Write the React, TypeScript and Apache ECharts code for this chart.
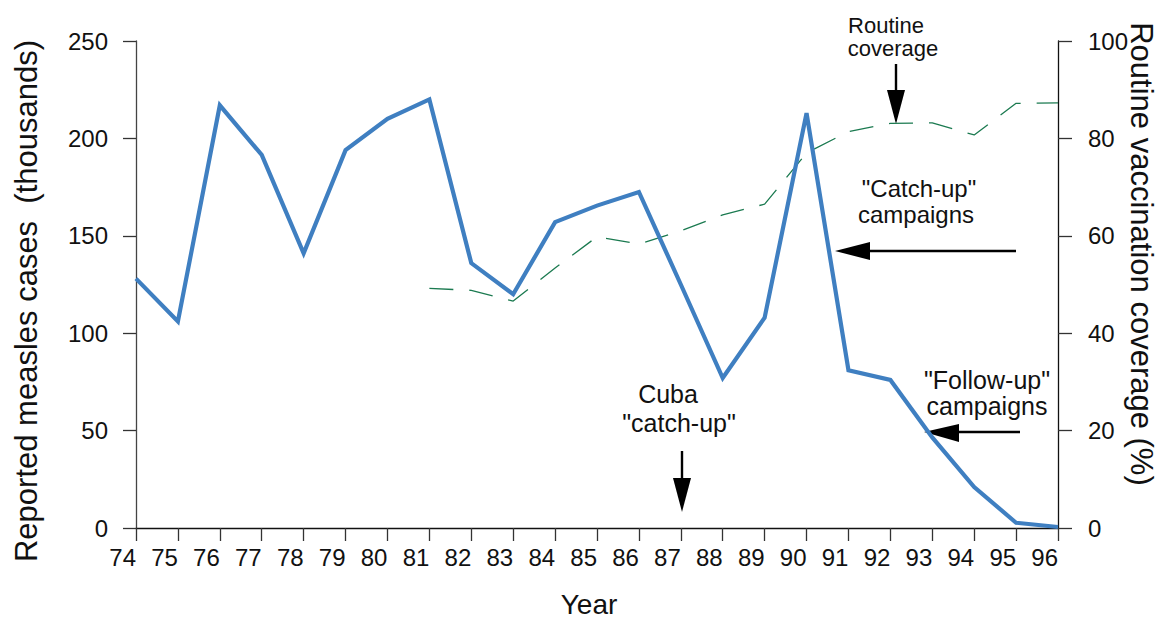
import React, { useEffect, useRef } from "react";
import * as echarts from "echarts";

const years = ["74","75","76","77","78","79","80","81","82","83","84","85","86","87","88","89","90","91","92","93","94","95","96"];
const measlesCases = [128, 106, 217, 191.5, 141, 194, 210, 220, 136, 120, 157, 165.5, 172.5, 125, 77, 108, 213, 81, 76, 46.5, 21, 2.7, 0.5];
const routineCoverage = [null, null, null, null, null, null, null, 49.2, 48.8, 46.6, 53.4, 59.8, 58.3, 61, 64.3, 66.5, 77, 81.4, 83.1, 83.2, 80.7, 87.2, 87.3];
const leftTicks = [0, 50, 100, 150, 200, 250];
const rightTicks = [0, 20, 40, 60, 80, 100];

const FONT = "'Liberation Sans', Arial, Helvetica, sans-serif";

function txt(text: string, x: number, y: number, size: number, rotation = 0) {
  return {
    type: "text",
    x,
    y,
    rotation,
    style: {
      text,
      font: `${size}px ${FONT}`,
      fill: "#111",
      align: "center",
      verticalAlign: "middle",
      textAlign: "center",
      textVerticalAlign: "middle",
    },
  };
}

function line(x1: number, y1: number, x2: number, y2: number) {
  return {
    type: "line",
    shape: { x1, y1, x2, y2 },
    style: { stroke: "#000", lineWidth: 2.4 },
  };
}

function tri(points: number[][]) {
  return {
    type: "polygon",
    shape: { points },
    style: { fill: "#000" },
  };
}

export default function App() {
  const ref = useRef<HTMLDivElement>(null);
  useEffect(() => {
    if (!ref.current) return;
    const chart = echarts.init(ref.current, null, { renderer: "svg" });
    chart.setOption({
      animation: false,
      backgroundColor: "#fff",
      textStyle: { fontFamily: FONT },
      grid: { left: 136, right: 99, top: 41, bottom: 93, containLabel: false },
      xAxis: {
        type: "category",
        data: years,
        boundaryGap: false,
        axisLine: { lineStyle: { color: "#111", width: 1.3 } },
        axisTick: { show: true, length: 13, interval: 0, lineStyle: { color: "#333", width: 1.3 } },
        axisLabel: { interval: 0, fontSize: 24, color: "#111", align: "right", margin: 17, fontFamily: FONT },
        splitLine: { show: false },
      },
      yAxis: [
        {
          type: "value",
          min: leftTicks[0],
          max: leftTicks[leftTicks.length - 1],
          interval: 50,
          axisLine: { show: true, lineStyle: { color: "#444", width: 1.3 } },
          axisTick: { show: true, length: 13, lineStyle: { color: "#333", width: 1.3 } },
          axisLabel: { fontSize: 24, color: "#111", margin: 28, padding: [0, 0, 10, 0], fontFamily: FONT },
          splitLine: { show: false },
        },
        {
          type: "value",
          min: rightTicks[0],
          max: rightTicks[rightTicks.length - 1],
          interval: 20,
          position: "right",
          axisLine: { show: true, lineStyle: { color: "#111", width: 1.3 } },
          axisTick: { show: true, length: 14, lineStyle: { color: "#333", width: 1.3 } },
          axisLabel: { fontSize: 24, color: "#111", margin: 30, padding: [0, 0, 10, 0], fontFamily: FONT },
          splitLine: { show: false },
        },
      ],
      series: [
        {
          name: "Reported measles cases",
          type: "line",
          data: measlesCases,
          yAxisIndex: 0,
          symbol: "none",
          lineStyle: { color: "#3f7fc1", width: 4.2, join: "miter" },
          z: 3,
        },
        {
          name: "Routine vaccination coverage",
          type: "line",
          data: routineCoverage,
          yAxisIndex: 1,
          symbol: "none",
          connectNulls: false,
          lineStyle: { color: "#1b7a50", width: 1.3, type: [24, 16] },
          z: 2,
        },
      ],
      graphic: [
        txt("Reported measles cases  (thousands)", 26, 301, 31, Math.PI / 2),
        txt("Routine vaccination coverage (%)", 1141, 254, 31, -Math.PI / 2),
        txt("Year", 589, 604, 28),
        txt("Routine", 886, 25, 22),
        txt("coverage", 893, 48, 22),
        line(896, 64, 896, 92),
        tri([[887, 90], [905, 90], [896, 124]]),
        txt('"Catch-up"', 919, 188, 24),
        txt("campaigns", 916, 214, 24),
        line(1016, 251, 868, 251),
        tri([[870, 242], [870, 260], [835, 251]]),
        txt('"Follow-up"', 987, 380, 25),
        txt("campaigns", 987, 406, 25),
        line(1020, 432, 956, 432),
        tri([[959, 424], [959, 442], [924, 432]]),
        txt("Cuba", 668, 394, 25),
        txt('"catch-up"', 679, 423, 25),
        line(682, 451, 682, 480),
        tri([[673, 478], [691, 478], [682, 512]]),
      ],
    });
    return () => chart.dispose();
  }, []);
  return <div ref={ref} style={{ width: 1157, height: 621, position: "absolute", left: 0, top: 0 }} />;
}
